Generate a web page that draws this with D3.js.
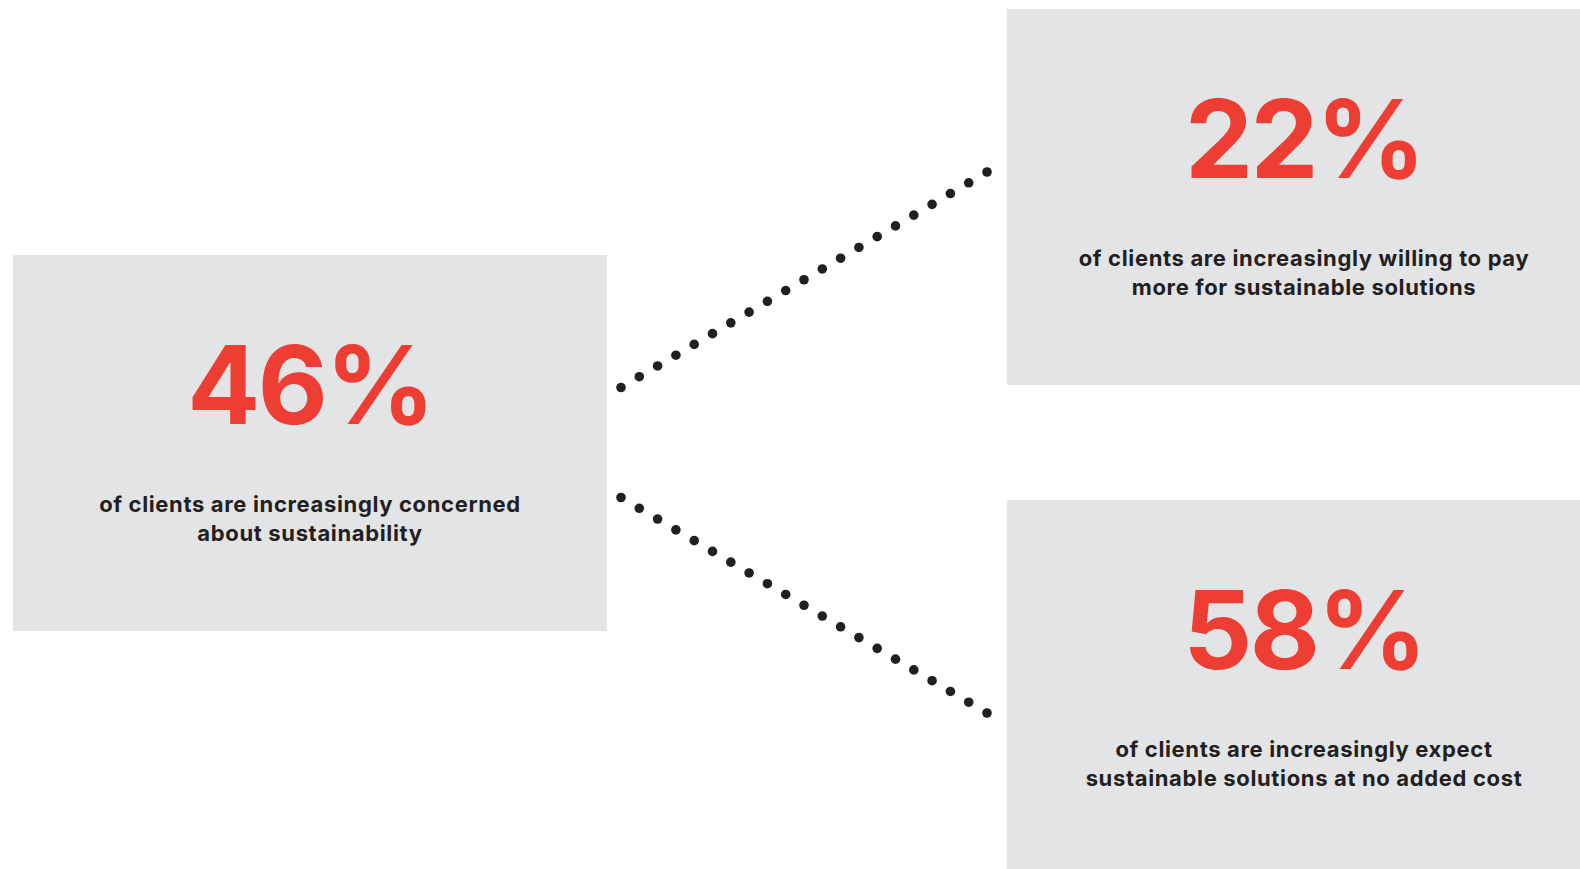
<html lang="en">

<head>
    <meta charset="UTF-8">
    <title>Client attitudes to sustainability</title>
    <script src="https://d3js.org/d3.v7.min.js"></script>
    <style>
        body { margin: 0; background: #ffffff; }
    </style>
</head>

<body>
    <div id="my_dataviz"></div>

    <script>

        // data
        const percents = [46, 22, 58];
        const lineOne = [
            "of clients are increasingly concerned",
            "of clients are increasingly willing to pay",
            "of clients are increasingly expect"
        ];
        const lineTwo = [
            "about sustainability",
            "more for sustainable solutions",
            "sustainable solutions at no added cost"
        ];

        const width = 1580, height = 869;
        const boxW = 594, boxH = 376;
        const red = "#ee3e33", grey = "#e3e4e6", ink = "#231f20";

        const svg = d3.select("#my_dataviz")
            .append("svg")
            .attr("width", width)
            .attr("height", height);

        // box positions (left, top-right, bottom-right)
        const boxX = d3.scaleOrdinal().domain([0, 1, 2]).range([13, 1007, 1007]);
        const boxY = d3.scaleOrdinal().domain([0, 1, 2]).range([255, 9, 500]);

        const cards = svg.selectAll(".card")
            .data(percents)
            .enter()
            .append("g")
            .attr("class", "card")
            .attr("transform", (d, i) => "translate(" + boxX(i) + "," + boxY(i) + ")");

        cards.append("rect")
            .attr("width", boxW)
            .attr("height", boxH)
            .style("fill", grey);

        cards.append("text")
            .attr("x", boxW / 2)
            .attr("y", 169)
            .attr("text-anchor", "middle")
            .style("font-family", "Inter, 'Liberation Sans', sans-serif")
            .style("font-weight", 700)
            .style("font-size", "108px")
            .style("letter-spacing", "-2.5px")
            .style("fill", red)
            .text(d => d + "%");

        // two-line description under each number
        [lineOne, lineTwo].forEach((lines, k) => {
            cards.append("text")
                .attr("x", boxW / 2)
                .attr("y", 257 + k * 29)
                .attr("text-anchor", "middle")
                .style("font-family", "Inter, 'Liberation Sans', sans-serif")
                .style("font-weight", 700)
                .style("font-size", "22px")
                .style("letter-spacing", "0.65px")
                .style("fill", ink)
                .text((d, i) => lines[i]);
        });

        // dotted connectors from the left card to the two right cards
        const nDots = 21;
        const t = d3.scaleLinear().domain([0, nDots - 1]).range([0, 1]);
        const connectors = [
            { x0: 621, y0: 387.5, x1: 987, y1: 172 },
            { x0: 621, y0: 497.5, x1: 987, y1: 713 }
        ];

        connectors.forEach(c => {
            const x = d3.scaleLinear().domain([0, 1]).range([c.x0, c.x1]);
            const y = d3.scaleLinear().domain([0, 1]).range([c.y0, c.y1]);
            svg.append("g")
                .selectAll("circle")
                .data(d3.range(nDots))
                .enter()
                .append("circle")
                .attr("cx", d => x(t(d)))
                .attr("cy", d => y(t(d)))
                .attr("r", 4.8)
                .style("fill", ink);
        });

    </script>

</body>

</html>
